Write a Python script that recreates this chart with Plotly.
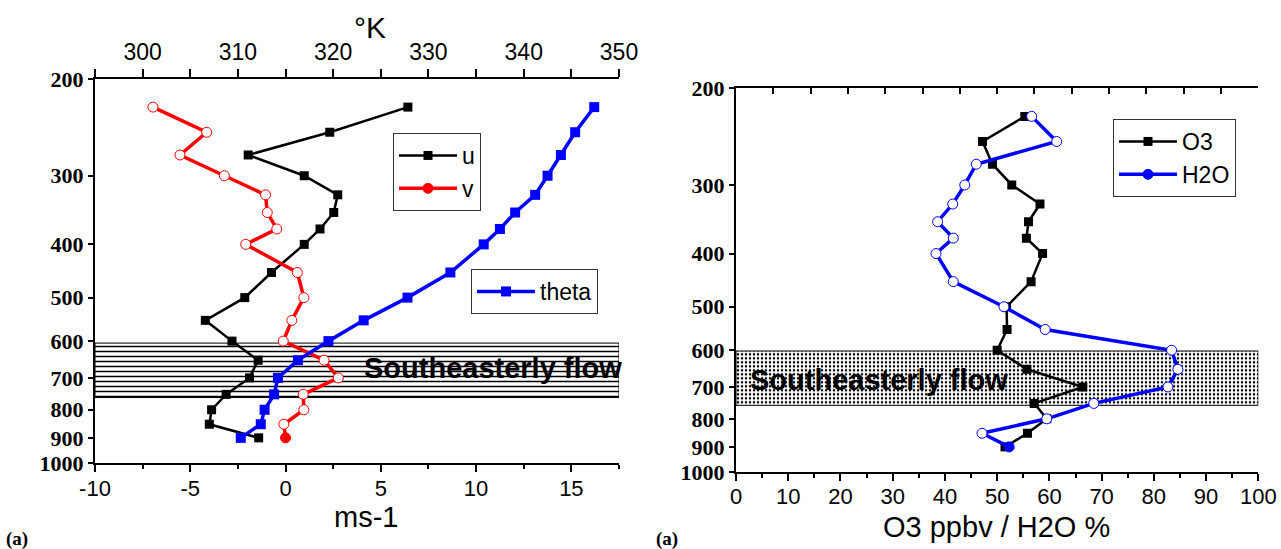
import math
import plotly.graph_objects as go

# ---------------- data ----------------
# pressure levels (hPa), listed from the lowest level (900) upwards
levels = [900, 850, 800, 750, 700, 650, 600, 550, 500, 450, 400, 375, 350, 325, 300, 275, 250, 225]

# left panel: wind components (m/s) and potential temperature (K)
u_wind = [-1.41, -4.0, -3.88, -3.12, -1.89, -1.44, -2.81, -4.21, -2.14, -0.74, 0.98, 1.81, 2.53, 2.74, 0.98, -1.96, 2.32, 6.42]
v_wind = [0.0, -0.09, 0.96, 0.93, 2.77, 2.02, -0.12, 0.33, 0.96, 0.62, -2.09, -0.46, -0.96, -1.05, -3.21, -5.54, -4.14, -6.96]
theta = [310.3, 312.4, 312.8, 313.8, 314.2, 316.3, 319.5, 323.2, 327.8, 332.3, 335.8, 337.5, 339.1, 341.2, 342.5, 343.9, 345.4, 347.4]

# right panel: ozone (ppbv) and relative humidity (%)
o3 = [51.5, 55.8, 59.5, 57.1, 66.4, 55.7, 50.0, 51.9, 51.8, 56.5, 58.7, 55.6, 56.0, 58.2, 52.8, 49.1, 47.2, 55.3]
h2o = [52.3, 47.1, 59.5, 68.5, 82.7, 84.6, 83.4, 59.2, 51.3, 41.6, 38.3, 41.6, 38.6, 41.5, 43.8, 46.0, 61.4, 56.6]

# southeasterly-flow layer (hPa)
flow_left = [605, 760]
flow_right = [602, 756]
flow_label = "Southeasterly flow"

p_ticks = [200, 300, 400, 500, 600, 700, 800, 900, 1000]
p_range = [1000, 200]
ms_range = [-10, 17.5]
ms_ticks = [-10, -5, 0, 5, 10, 15]
k_range = [295, 350]
k_ticks = [300, 310, 320, 330, 340, 350]
pct_range = [0, 100]
top_right_range = [0, 14]

SANS = "Liberation Sans, Arial, sans-serif"
SERIF = "Liberation Serif, Times New Roman, serif"

def open_first_filled(color):
    return [color if i == 0 else "white" for i in range(len(levels))]

fig = go.Figure()

# hatched band, left panel
fig.add_trace(go.Scatter(
    x=[ms_range[0], ms_range[1], ms_range[1], ms_range[0], ms_range[0]],
    y=[flow_left[0], flow_left[0], flow_left[1], flow_left[1], flow_left[0]],
    mode="lines", fill="toself", fillcolor="white",
    fillpattern=dict(shape="-", size=5, solidity=0.3, fgcolor="black", bgcolor="white", fillmode="replace"),
    line=dict(color="black", width=1), showlegend=False, hoverinfo="skip",
    xaxis="x", yaxis="y"))

# dotted band, right panel (on the unlabelled top axis, which is the base axis of the right panel)
fig.add_trace(go.Scatter(
    x=[top_right_range[0], top_right_range[1], top_right_range[1], top_right_range[0], top_right_range[0]],
    y=[flow_right[0], flow_right[0], flow_right[1], flow_right[1], flow_right[0]],
    mode="lines", fill="toself", fillcolor="white",
    fillpattern=dict(shape=".", size=4, solidity=0.3, fgcolor="black", bgcolor="white", fillmode="replace"),
    line=dict(color="black", width=1), showlegend=False, hoverinfo="skip",
    xaxis="x4", yaxis="y2"))

fig.add_trace(go.Scatter(
    x=u_wind, y=levels, name="u", mode="lines+markers",
    line=dict(color="black", width=2.5),
    marker=dict(symbol="square", size=9, color="black"),
    xaxis="x", yaxis="y", legend="legend"))

fig.add_trace(go.Scatter(
    x=v_wind, y=levels, name="v", mode="lines+markers",
    line=dict(color="red", width=3.5),
    marker=dict(symbol="circle", size=10, color=open_first_filled("red"),
                line=dict(color="red", width=1)),
    xaxis="x", yaxis="y", legend="legend"))

fig.add_trace(go.Scatter(
    x=theta, y=levels, name="theta", mode="lines+markers",
    line=dict(color="blue", width=3.5),
    marker=dict(symbol="square", size=10, color="blue"),
    xaxis="x2", yaxis="y", legend="legend2"))

fig.add_trace(go.Scatter(
    x=o3, y=levels, name="O3", mode="lines+markers",
    line=dict(color="black", width=2.5),
    marker=dict(symbol="square", size=9, color="black"),
    xaxis="x3", yaxis="y2", legend="legend3"))

fig.add_trace(go.Scatter(
    x=h2o, y=levels, name="H2O", mode="lines+markers",
    line=dict(color="blue", width=3.5),
    marker=dict(symbol="circle", size=10, color=open_first_filled("blue"),
                line=dict(color="blue", width=1)),
    xaxis="x3", yaxis="y2", legend="legend3"))

W, H = 1281, 549
left_dom = [95 / W, 619 / W]
right_dom = [736 / W, 1258.3 / W]
left_ydom = [1 - 463 / H, 1 - 79 / H]
right_ydom = [1 - 472 / H, 1 - 88.3 / H]

yaxis_common = dict(
    type="log", range=[math.log10(p_range[0]), math.log10(p_range[1])],
    tickvals=p_ticks, ticktext=[str(t) for t in p_ticks],
    tickfont=dict(family=SERIF, size=22, color="black", weight="bold"),
    showline=True, linecolor="black", linewidth=2,
    ticks="outside", ticklen=5, tickwidth=2, tickcolor="black",
    showgrid=False, zeroline=False, automargin=False)

xfont = dict(family=SANS, size=22, color="black")
title_font = dict(family=SANS, size=29, color="black")
legend_common = dict(xanchor="left", yanchor="top", bgcolor="white", bordercolor="#333",
                     borderwidth=1, itemwidth=58,
                     font=dict(family=SANS, size=23, color="black"))

fig.update_layout(
    width=W, height=H,
    margin=dict(l=0, r=0, t=0, b=0),
    paper_bgcolor="white", plot_bgcolor="white",
    font=dict(family=SANS, color="black"),
    xaxis=dict(domain=left_dom, anchor="y", range=ms_range,
               tickvals=ms_ticks, ticktext=[str(t) for t in ms_ticks],
               ticks="outside", ticklen=7, tickwidth=2, tickcolor="black",
               minor=dict(tickmode="linear", tick0=0, dtick=2.5, ticks="outside", ticklen=4, tickwidth=2, tickcolor="black"),
               showline=True, linecolor="black", linewidth=2, showgrid=False, zeroline=False,
               tickfont=xfont, automargin=False, ticklabelstandoff=-2),
    xaxis2=dict(overlaying="x", anchor="y", side="top", range=k_range,
                tickvals=k_ticks, ticks="outside", ticklen=8, tickwidth=2, tickcolor="black",
                minor=dict(tickmode="linear", tick0=0, dtick=5, ticks="outside", ticklen=8, tickwidth=2, tickcolor="black"),
                showline=True, linecolor="black", linewidth=2, showgrid=False, zeroline=False,
                tickfont=dict(family=SANS, size=23, color="black"), automargin=False),
    yaxis=dict(domain=left_ydom, anchor="x", **yaxis_common),
    xaxis4=dict(domain=right_dom, anchor="y2", side="top", range=top_right_range, dtick=1,
                ticks="inside", ticklen=6, tickwidth=2, tickcolor="black", showticklabels=False,
                showline=True, linecolor="black", linewidth=2, showgrid=False, zeroline=False,
                automargin=False),
    xaxis3=dict(overlaying="x4", anchor="y2", side="bottom", range=pct_range,
                dtick=10, ticks="outside", ticklen=7, tickwidth=2, tickcolor="black",
                minor=dict(dtick=5, ticks="outside", ticklen=4, tickwidth=2, tickcolor="black"),
                showline=True, linecolor="black", linewidth=2, showgrid=False, zeroline=False,
                tickfont=xfont, automargin=False, ticklabelstandoff=-3),
    yaxis2=dict(domain=right_ydom, anchor="x4", **yaxis_common),
    legend=dict(x=393 / W, y=1 - 133 / H, tracegroupgap=0, **legend_common),
    legend2=dict(x=471 / W, y=1 - 269 / H, **legend_common),
    legend3=dict(x=1113 / W, y=1 - 119 / H, **legend_common),
    annotations=[
        dict(text="°K", x=370 / W, y=1 - 28 / H, xref="paper", yref="paper",
             xanchor="center", yanchor="middle", showarrow=False,
             font=dict(family=SANS, size=30, color="black")),
        dict(text="ms-1", x=366 / W, y=1 - 517 / H, xref="paper", yref="paper",
             xanchor="center", yanchor="middle", showarrow=False, font=title_font),
        dict(text="O3 ppbv / H2O %", x=996 / W, y=1 - 527 / H, xref="paper", yref="paper",
             xanchor="center", yanchor="middle", showarrow=False, font=title_font),
        dict(text="<b>" + flow_label + "</b>", x=4.0, y=math.log10(672), xref="x", yref="y",
             xanchor="left", yanchor="middle", showarrow=False,
             font=dict(family=SANS, size=29, color="black")),
        dict(text="<b>" + flow_label + "</b>", x=2.3, y=math.log10(680), xref="x3", yref="y2",
             xanchor="left", yanchor="middle", showarrow=False,
             font=dict(family=SANS, size=29, color="black")),
        dict(text="<b>(a)</b>", x=4 / W, y=1 - 539 / H, xref="paper", yref="paper",
             xanchor="left", yanchor="middle", showarrow=False,
             font=dict(family=SERIF, size=19, color="black")),
        dict(text="<b>(a)</b>", x=654 / W, y=1 - 539 / H, xref="paper", yref="paper",
             xanchor="left", yanchor="middle", showarrow=False,
             font=dict(family=SERIF, size=19, color="black")),
    ],
)

fig.write_html("out.html")
